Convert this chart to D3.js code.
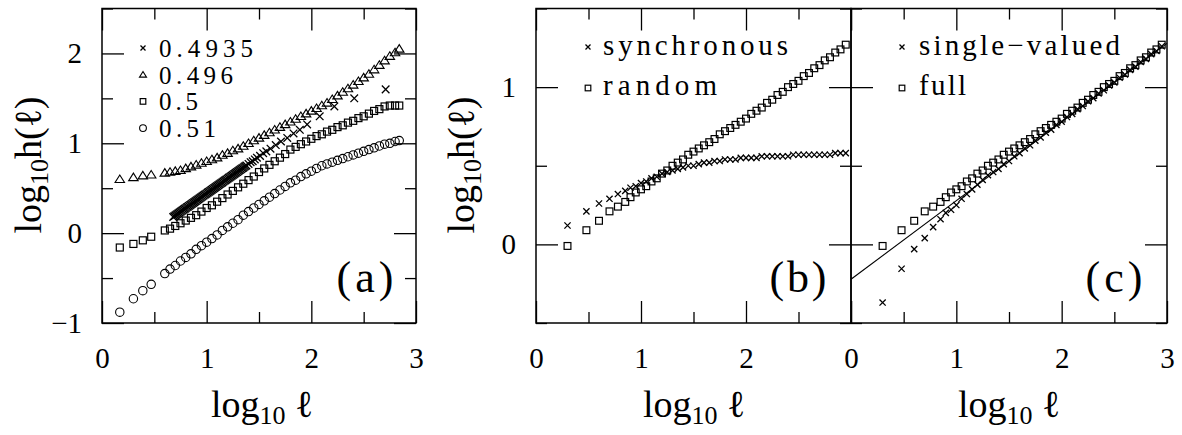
<!DOCTYPE html>
<html>
<head>
<meta charset="utf-8">
<script src="https://cdn.jsdelivr.net/npm/d3@7"></script>
<style>
body { margin: 0; background: #fff; }
</style>
</head>
<body>
<svg id="chart" width="1182" height="435" font-family="'Liberation Serif', 'DejaVu Serif', serif"></svg>
<script>
// ---- panel (a): log10 h(l) for four parameter values ----
var aX = [0.17,0.30,0.39,0.47,0.60,0.65,0.70,0.75,0.80,0.85,0.90,0.95,1.00,1.05,1.10,1.15,1.20,1.25,1.30,1.35,
  1.40,1.45,1.50,1.55,1.60,1.65,1.70,1.75,1.80,1.85,1.90,1.95,2.00,2.05,2.10,2.15,2.20,2.25,2.30,2.35,
  2.40,2.45,2.50,2.55,2.60,2.65,2.70,2.75,2.80,2.84];
var aCircle = [-0.88,-0.73,-0.64,-0.57,-0.45,-0.40,-0.36,-0.31,-0.27,-0.23,-0.18,-0.14,-0.10,-0.06,-0.02,0.03,0.07,0.11,0.15,0.20,
  0.24,0.28,0.32,0.36,0.40,0.44,0.48,0.52,0.56,0.59,0.63,0.66,0.69,0.72,0.75,0.77,0.79,0.81,0.83,0.85,
  0.87,0.89,0.91,0.93,0.95,0.97,0.99,1.00,1.02,1.03];
var aTriangle = [0.60,0.62,0.64,0.65,0.67,0.68,0.69,0.70,0.72,0.74,0.76,0.78,0.80,0.82,0.84,0.87,0.89,0.92,0.94,0.97,
  1.00,1.03,1.06,1.09,1.12,1.15,1.18,1.21,1.24,1.27,1.30,1.33,1.36,1.39,1.42,1.45,1.49,1.53,1.57,1.61,
  1.65,1.69,1.73,1.77,1.82,1.87,1.92,1.97,2.01,2.05];
var aSquare = [-0.16,-0.12,-0.08,-0.04,0.03,0.05,0.08,0.11,0.14,0.17,0.20,0.24,0.28,0.31,0.35,0.39,0.43,0.47,0.51,0.55,
  0.59,0.63,0.68,0.72,0.76,0.80,0.84,0.88,0.93,0.96,0.99,1.02,1.05,1.08,1.10,1.13,1.15,1.18,1.20,1.23,
  1.25,1.28,1.30,1.33,1.36,1.38,1.41,1.42,1.42,1.42];
var aCrossX = [0.68,0.69,0.70,0.71,0.72,0.73,0.74,0.75,0.76,0.77,0.78,0.79,0.80,0.81,0.82,0.83,0.84,0.85,0.86,0.87,
  0.88,0.89,0.90,0.91,0.92,0.93,0.94,0.95,0.96,0.97,0.98,0.99,1.00,1.01,1.02,1.03,1.04,1.05,1.06,1.07,
  1.08,1.09,1.10,1.11,1.12,1.13,1.14,1.15,1.16,1.17,1.18,1.19,1.20,1.21,1.22,1.23,1.24,1.25,1.26,1.27,
  1.28,1.29,1.30,1.31,1.32,1.33,1.34,1.35,1.36,1.37,1.38,1.40,1.42,1.44,1.46,1.48,1.51,1.54,1.57,1.61,
  1.66,1.71,1.77,1.83,1.89,1.96,2.08,2.22,2.41,2.71];
var aCrossY = [0.180,0.188,0.196,0.205,0.213,0.221,0.229,0.237,0.246,0.254,0.262,0.270,0.278,0.287,0.295,0.303,0.311,0.319,0.328,0.336,
  0.344,0.352,0.360,0.369,0.377,0.385,0.393,0.401,0.410,0.418,0.426,0.434,0.442,0.451,0.459,0.467,0.475,0.483,0.492,0.500,
  0.508,0.516,0.524,0.533,0.541,0.549,0.557,0.565,0.574,0.582,0.590,0.598,0.606,0.615,0.623,0.631,0.639,0.647,0.656,0.664,
  0.672,0.680,0.688,0.697,0.705,0.713,0.721,0.729,0.738,0.746,0.754,0.77,0.79,0.80,0.82,0.84,0.86,0.89,0.91,0.94,
  0.98,1.02,1.06,1.11,1.15,1.21,1.30,1.41,1.50,1.60];
var aLegend = ["0.4935", "0.496", "0.5", "0.51"];

// ---- panels (b) and (c) ----
var bcX = [0.30,0.48,0.60,0.70,0.78,0.85,0.90,0.95,1.00,1.05,1.10,1.15,1.20,1.25,1.30,1.35,1.40,1.45,
  1.50,1.55,1.60,1.65,1.70,1.75,1.80,1.85,1.90,1.95,2.00,2.05,2.10,2.15,2.20,2.25,2.30,2.35,2.40,2.45,
  2.50,2.55,2.60,2.65,2.70,2.75,2.80,2.85,2.90,2.95];
var bSync = [0.12,0.21,0.26,0.29,0.32,0.34,0.36,0.37,0.39,0.40,0.42,0.43,0.45,0.46,0.47,0.48,0.49,0.50,
  0.50,0.51,0.52,0.52,0.53,0.53,0.54,0.54,0.54,0.55,0.55,0.55,0.55,0.56,0.56,0.56,0.56,0.56,0.56,0.57,
  0.57,0.57,0.57,0.57,0.57,0.57,0.57,0.58,0.58,0.58];
var bRandom = [-0.01,0.09,0.15,0.21,0.24,0.27,0.30,0.33,0.35,0.37,0.40,0.42,0.45,0.47,0.50,0.52,0.54,0.57,
  0.59,0.61,0.63,0.65,0.67,0.70,0.72,0.74,0.76,0.78,0.80,0.83,0.85,0.87,0.90,0.92,0.95,0.97,1.00,1.02,
  1.04,1.07,1.09,1.12,1.14,1.17,1.19,1.22,1.24,1.27];
var cSingle = [-0.37,-0.155,-0.03,0.04,0.11,0.16,0.20,0.22,0.25,0.29,0.32,0.35,0.38,0.41,0.44,0.46,0.48,0.51,
  0.53,0.56,0.58,0.61,0.63,0.66,0.68,0.71,0.73,0.76,0.78,0.81,0.83,0.86,0.88,0.91,0.93,0.96,0.98,1.01,
  1.03,1.06,1.08,1.11,1.13,1.16,1.18,1.21,1.23,1.26];
var cFull = [-0.01,0.09,0.15,0.21,0.24,0.27,0.30,0.33,0.35,0.37,0.40,0.42,0.45,0.47,0.50,0.52,0.54,0.57,
  0.59,0.61,0.63,0.65,0.67,0.70,0.72,0.74,0.76,0.78,0.80,0.83,0.85,0.87,0.90,0.92,0.95,0.97,1.00,1.02,
  1.04,1.07,1.09,1.12,1.14,1.17,1.19,1.22,1.24,1.27];
var fitX = [0, 3];
var fitY = [-0.222, 1.278];

var FONT = "'Liberation Serif', 'DejaVu Serif', serif";
var frameTop = 8.5, frameBottom = 323;

var svg = d3.select("#chart");
svg.append("rect").attr("width", 1182).attr("height", 435).attr("fill", "#fff");

function crossPath(s) { return "M" + (-s) + "," + (-s) + "L" + s + "," + s + "M" + (-s) + "," + s + "L" + s + "," + (-s); }
function triPath(s) { return "M0," + (-s) + "L" + (s * 1.1) + "," + (s * 0.75) + "L" + (-s * 1.1) + "," + (s * 0.75) + "Z"; }

function marker(g, type, px, py, s) {
  if (type === "cross") {
    g.append("path").attr("d", crossPath(s)).attr("transform", "translate(" + px + "," + py + ")")
      .attr("fill", "none").attr("stroke", "#000").attr("stroke-width", 1.3);
  } else if (type === "tri") {
    g.append("path").attr("d", triPath(s)).attr("transform", "translate(" + px + "," + py + ")")
      .attr("fill", "none").attr("stroke", "#000").attr("stroke-width", 1.1);
  } else if (type === "square") {
    g.append("rect").attr("x", px - s).attr("y", py - s).attr("width", 2 * s).attr("height", 2 * s)
      .attr("fill", "none").attr("stroke", "#000").attr("stroke-width", 1.2);
  } else {
    g.append("circle").attr("cx", px).attr("cy", py).attr("r", s)
      .attr("fill", "none").attr("stroke", "#000").attr("stroke-width", 1.1);
  }
}

function series(g, x, y, xs, ys, type, s) {
  xs.forEach(function(d, i) { marker(g, type, x(d), y(ys[i]), s); });
}

function label(g, t, x, y, size) {
  return g.append("text").attr("x", x).attr("y", y).attr("font-family", FONT)
    .attr("font-size", size).attr("fill", "#000").text(t);
}

function styleAxis(sel) {
  sel.select(".domain").remove();
  sel.attr("font-family", FONT).attr("font-size", 29);
  sel.selectAll("line").attr("stroke", "#000").attr("stroke-width", 1.3);
  sel.selectAll("text").attr("font-family", FONT).attr("font-size", 29).attr("fill", "#000");
}

function title(g, tx, ty, rotate, tail) {
  var t = g.append("text").attr("text-anchor", "middle").attr("font-family", FONT).attr("font-size", 38)
    .attr("transform", "translate(" + tx + "," + ty + ")" + (rotate ? " rotate(-90)" : ""));
  t.append("tspan").text("log");
  t.append("tspan").attr("font-size", 26).attr("dy", 7).text("10");
  t.append("tspan").attr("dy", -7).text(tail);
}

function drawPanel(p) {
  var x = d3.scaleLinear().domain([0, 3]).range([p.x0, p.x1]);
  var y = d3.scaleLinear().domain(p.yDomain).range([frameBottom, frameTop]);
  var g = svg.append("g");

  var majX = [0, 1, 2, 3], minX = [0.5, 1.5, 2.5];
  var majY = d3.range(Math.ceil(p.yDomain[0]), p.yDomain[1] + 0.01, 1);
  var minY = d3.range(p.yDomain[0], p.yDomain[1] + 0.01, 0.5).filter(function(d) { return d % 1 !== 0; });

  var fmt = function(d) { return p.xLabels.indexOf(d) >= 0 ? d : ""; };
  g.append("g").attr("transform", "translate(0," + frameBottom + ")")
    .call(d3.axisBottom(x).tickValues(majX).tickSize(-22).tickPadding(24).tickFormat(fmt)).call(styleAxis);
  g.append("g").attr("transform", "translate(0," + frameBottom + ")")
    .call(d3.axisBottom(x).tickValues(minX).tickSize(-11).tickFormat("")).call(styleAxis);
  g.append("g").attr("transform", "translate(0," + frameTop + ")")
    .call(d3.axisTop(x).tickValues(majX).tickSize(-22).tickFormat("")).call(styleAxis);
  g.append("g").attr("transform", "translate(0," + frameTop + ")")
    .call(d3.axisTop(x).tickValues(minX).tickSize(-11).tickFormat("")).call(styleAxis);

  var yfmt = function(d) { return p.yLabels ? d3.format("d")(d) : ""; };
  g.append("g").attr("transform", "translate(" + p.x0 + ",0)")
    .call(d3.axisLeft(y).tickValues(majY).tickSize(-22).tickPadding(20).tickFormat(yfmt)).call(styleAxis);
  g.append("g").attr("transform", "translate(" + p.x0 + ",0)")
    .call(d3.axisLeft(y).tickValues(minY).tickSize(-11).tickFormat("")).call(styleAxis);
  g.append("g").attr("transform", "translate(" + p.x1 + ",0)")
    .call(d3.axisRight(y).tickValues(majY).tickSize(-22).tickFormat("")).call(styleAxis);
  g.append("g").attr("transform", "translate(" + p.x1 + ",0)")
    .call(d3.axisRight(y).tickValues(minY).tickSize(-11).tickFormat("")).call(styleAxis);

  g.append("rect").attr("x", p.x0).attr("y", frameTop)
    .attr("width", p.x1 - p.x0).attr("height", frameBottom - frameTop)
    .attr("fill", "none").attr("stroke", "#000").attr("stroke-width", 1.5);

  // panel letter
  label(g, p.label, p.labelX, 292, 44).attr("text-anchor", "middle")
    .attr("textLength", 57).attr("lengthAdjust", "spacing");

  title(g, p.titleX, 417, false, " \u2113");
  if (p.yTitleX) title(g, p.yTitleX, 165, true, "h(\u2113)");
  return {g: g, x: x, y: y};
}

// ---- panel (a) ----
var pa = drawPanel({x0: 102, x1: 416, yDomain: [-1, 2.5], xLabels: [0, 1, 2, 3], yLabels: true,
  label: "(a)", labelX: 365, titleX: 262, yTitleX: 41});
series(pa.g, pa.x, pa.y, aX, aCircle, "circle", 4.2);
series(pa.g, pa.x, pa.y, aX, aTriangle, "tri", 4.3);
series(pa.g, pa.x, pa.y, aX, aSquare, "square", 3.5);
series(pa.g, pa.x, pa.y, aCrossX, aCrossY, "cross", 3.8);

var aTypes = ["cross", "tri", "square", "circle"];
var aSizes = [2.5, 3.2, 2.8, 3.4];
var aWidths = [94, 74, 39, 57];
aLegend.forEach(function(t, i) {
  var yy = 48 + i * 26.7;
  marker(pa.g, aTypes[i], 143, yy, aSizes[i]);
  label(pa.g, t, 159, yy + 9, 25).attr("textLength", aWidths[i]).attr("lengthAdjust", "spacing");
});

// ---- panel (b) ----
var pb = drawPanel({x0: 536, x1: 851, yDomain: [-0.5, 1.5], xLabels: [0, 1, 2], yLabels: true,
  label: "(b)", labelX: 798, titleX: 694, yTitleX: 474});
series(pb.g, pb.x, pb.y, bcX, bRandom, "square", 3.4);
series(pb.g, pb.x, pb.y, bcX, bSync, "cross", 3.1);
marker(pb.g, "cross", 588, 47, 2.5);
marker(pb.g, "square", 588, 88, 2.8);
label(pb.g, "synchronous", 603, 55, 29).attr("textLength", 185).attr("lengthAdjust", "spacing");
label(pb.g, "random", 603, 95, 29).attr("textLength", 114).attr("lengthAdjust", "spacing");

// ---- panel (c) ----
var pc = drawPanel({x0: 851, x1: 1167, yDomain: [-0.5, 1.5], xLabels: [0, 1, 2, 3], yLabels: false,
  label: "(c)", labelX: 1114, titleX: 1009, yTitleX: null});
pc.g.append("path")
  .attr("d", d3.line().x(function(d) { return pc.x(d); }).y(function(d, i) { return pc.y(fitY[i]); })(fitX))
  .attr("fill", "none").attr("stroke", "#000").attr("stroke-width", 1.1);
series(pc.g, pc.x, pc.y, bcX, cFull, "square", 3.4);
series(pc.g, pc.x, pc.y, bcX, cSingle, "cross", 3.1);
marker(pc.g, "cross", 902, 47, 2.5);
marker(pc.g, "square", 902, 88, 2.8);
label(pc.g, "single\u2212valued", 919, 55, 29).attr("textLength", 201).attr("lengthAdjust", "spacing");
label(pc.g, "full", 919, 95, 29).attr("textLength", 47).attr("lengthAdjust", "spacing");
</script>
</body>
</html>
